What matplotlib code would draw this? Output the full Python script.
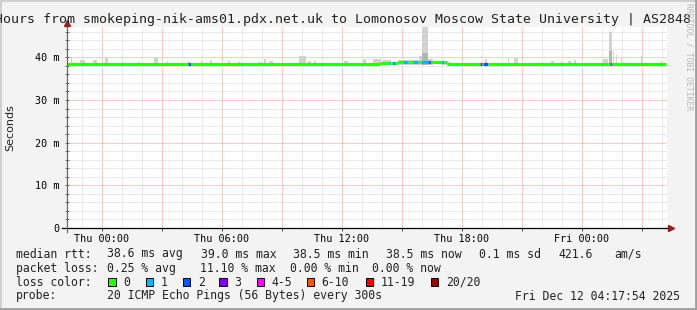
"""SmokePing latency chart, 30 hours, redrawn with matplotlib."""

import matplotlib

matplotlib.use("Agg")
import matplotlib.pyplot as plt
import numpy as np
from matplotlib.lines import Line2D
from matplotlib.patches import Rectangle

W, H = 697, 310
MONO = "DejaVu Sans Mono"

# time axis in hours relative to Thu 00:00
t_start, t_end = -1.725, 28.275
data_end = 28.20

xtick_pos = [0, 6, 12, 18, 24]
xtick_labels = ["Thu 00:00", "Thu 06:00", "Thu 12:00", "Thu 18:00", "Fri 00:00"]
ytick_pos = [0, 10, 20, 30, 40]
ytick_labels = ["0", "10 m", "20 m", "30 m", "40 m"]
y_max = 47.1

# median rtt (ms): baseline plus the stretches where it rose
median_base = 38.5
med_start = [13.9, 14.8, 15.4, 15.9, 16.4]
med_end = [14.8, 15.4, 15.9, 16.4, 17.25]
med_val = [38.6, 38.9, 39.0, 38.9, 38.85]

# lost pings (out of 20) per stretch
loss_start = [4.30, 14.35, 14.55, 15.05, 15.55, 15.95, 16.30, 16.95, 18.90, 19.05, 25.40]
loss_end = [4.45, 14.45, 14.65, 15.30, 15.80, 16.30, 16.45, 17.10, 19.00, 19.30, 25.50]
loss_count = [2, 1, 2, 1, 1, 1, 2, 1, 3, 2, 2]

# smoke: spread of the 20 pings above the median
smoke_bottom = 38.3
smoke_start = [-1.55, -1.10, -0.45, 0.15, 1.00, 1.80, 2.60, 3.25, 4.25, 4.95, 5.40, 6.30,
               6.80, 7.80, 8.10, 8.35, 9.85, 10.30, 10.60, 11.10, 12.10, 13.05, 13.55, 14.05,
               14.80, 15.85, 16.00, 16.30, 16.95, 18.60, 19.15, 20.30, 20.60, 21.80, 22.45,
               22.95, 23.30, 23.60, 25.05, 25.35, 25.55, 25.70, 25.95, 26.30, 26.95, 27.95]
smoke_end = [-1.50, -0.85, -0.25, 0.30, 1.10, 1.90, 2.80, 3.30, 4.40, 5.05, 5.50, 6.40,
             6.95, 7.95, 8.20, 8.55, 10.20, 10.45, 10.70, 11.15, 12.30, 13.20, 13.95, 14.45,
             15.85, 16.00, 16.30, 16.55, 17.45, 18.65, 19.25, 20.35, 20.80, 21.85, 22.60,
             23.00, 23.45, 23.70, 25.30, 25.50, 25.60, 25.75, 26.00, 26.35, 27.05, 28.00]
smoke_top = [40.1, 39.4, 39.4, 40.0, 38.9, 38.9, 40.0, 39.1, 38.9, 39.1, 39.4, 39.1,
             38.9, 38.9, 39.7, 39.1, 40.3, 39.1, 39.1, 38.9, 39.1, 39.7, 39.5, 39.3,
             39.3, 40.2, 47.1, 39.7, 39.0, 39.2, 39.6, 39.8, 39.8, 39.0, 39.1,
             39.1, 39.1, 39.4, 39.6, 45.9, 41.4, 40.6, 39.8, 39.0, 40.2, 39.2]
# denser core of the two tall spikes
core_start = [16.00, 25.35]
core_end = [16.30, 25.50]
core_top = [41.1, 41.4]

loss_labels = ["0", "1", "2", "3", "4-5", "6-10", "11-19", "20/20"]
loss_colors = ["#26ff00", "#00b8ff", "#0059ff", "#7e00ff", "#ff00ff", "#ff5500", "#ff0000", "#a10000"]
loss_upper = [0, 1, 2, 3, 5, 10, 19, 20]

stats_rtt = ["median rtt:", "38.6 ms avg", "39.0 ms max", "38.5 ms min", "38.5 ms now",
             "0.1 ms sd", "421.6", "am/s"]
stats_loss = ["packet loss:", "0.25 % avg", "11.10 % max", "0.00 % min", "0.00 % now"]
probe_text = "20 ICMP Echo Pings (56 Bytes) every 300s"
stamp_text = "Fri Dec 12 04:17:54 2025"
title = "Hours from smokeping-nik-ams01.pdx.net.uk to Lomonosov Moscow State University | AS2848"


def median_at(t):
    for a, b, v in zip(med_start, med_end, med_val):
        if a <= t < b:
            return v
    return median_base


def loss_color_at(t):
    n = 0
    for a, b, c in zip(loss_start, loss_end, loss_count):
        if a <= t < b:
            n = c
    for up, col in zip(loss_upper, loss_colors):
        if n <= up:
            return col
    return loss_colors[-1]


fig = plt.figure(figsize=(W / 100, H / 100), dpi=100)
fig.patch.set_facecolor("#f3f3f3")

ax = fig.add_axes([67 / W, (H - 228) / H, 600 / W, 201 / H])
ax.set_facecolor("white")
ax.set_xlim(t_start, t_end)
ax.set_ylim(0, y_max)
for s in ax.spines.values():
    s.set_visible(False)

# grid: hourly grey, 3-hourly red; 2 ms grey, 10 ms red
dots = (0, (1, 1))
for h in range(-1, 29):
    major = h % 3 == 0
    ax.axvline(h, color="#f29a9a" if major else "#d4d4d4", lw=0.72, ls=dots, zorder=0.5)
for v in range(2, 47, 2):
    major = v % 10 == 0
    ax.axhline(v, color="#f29a9a" if major else "#d4d4d4", lw=0.72, ls=dots, zorder=0.5)

# smoke
ax.bar(smoke_start, np.array(smoke_top) - smoke_bottom, width=np.array(smoke_end) - np.array(smoke_start),
       bottom=smoke_bottom, align="edge", color="#d2d2d2", linewidth=0, zorder=1)
ax.bar(core_start, np.array(core_top) - smoke_bottom, width=np.array(core_end) - np.array(core_start),
       bottom=smoke_bottom, align="edge", color="#b4b4b4", linewidth=0, zorder=1.1)

# median line coloured by loss
edges = sorted(set([t_start, data_end] + med_start + med_end + loss_start + loss_end))
xs0, xs1, ys, cs = [], [], [], []
for a, b in zip(edges[:-1], edges[1:]):
    m = 0.5 * (a + b)
    xs0.append(a)
    xs1.append(b)
    ys.append(median_at(m))
    cs.append(loss_color_at(m))
ax.hlines(ys, xs0, xs1, colors=cs, linewidth=2.3, zorder=2)

# ticks
ax.set_xticks(xtick_pos, xtick_labels)
ax.set_yticks(ytick_pos, ytick_labels)
ax.set_yticks(np.arange(0, 47, 2), minor=True)
ax.set_xticks(np.arange(0, 29, 3), minor=True)
for lab in ax.get_xticklabels() + ax.get_yticklabels():
    lab.set_fontfamily(MONO)
    lab.set_fontsize(7.3)
ax.tick_params(axis="x", which="both", length=2, width=0.7, color="#444444", pad=2.5)
ax.tick_params(axis="y", which="both", length=3, width=0.7, color="#666666", direction="inout", pad=4)

# axes with arrows
ax.plot([-5 / 600, 1.002], [0, 0], transform=ax.transAxes, color="black", lw=0.9, clip_on=False, zorder=3)
ax.plot([0, 0], [-4 / 201, 1 + 4 / 201], transform=ax.transAxes, color="#666666", lw=0.9, clip_on=False, zorder=3)
ax.plot([1.006], [0], transform=ax.transAxes, marker=">", ms=4.5, color="#9b1c1c", mec="#9b1c1c",
        clip_on=False, zorder=4)
ax.plot([0], [1 + 4 / 201], transform=ax.transAxes, marker="^", ms=4.5, color="#9b1c1c", mec="#9b1c1c",
        clip_on=False, zorder=4)


def px(x, y):
    return x / W, 1 - y / H


# title, unit, watermark
fig.text(*px(691, 19), title, ha="right", va="center", family=MONO, fontsize=9.55, color="#222222")
fig.text(*px(10, 127.5), "Seconds", ha="center", va="center", rotation=90, fontsize=8, color="#222222")
fig.text(*px(689, 3), "RRDTOOL / TOBI OETIKER", ha="center", va="top", rotation=270, family=MONO,
         fontsize=5.8, color="#b8b8b8")

# legend block
leg = dict(va="center", family=MONO, fontsize=8.3, color="#222222")
for txt, x in zip(stats_rtt, [16, 107.3, 200.7, 292.7, 386, 479.3, 558.3, 614]):
    fig.text(*px(x, 254), txt, **leg)
for txt, x in zip(stats_loss, [16, 107.3, 200, 290, 372.3]):
    fig.text(*px(x, 268.5), txt, **leg)
fig.text(*px(16, 282), "loss color:", **leg)
for lab, col, x in zip(loss_labels, loss_colors, [108.3, 145.7, 182.7, 219.3, 256.7, 306.7, 365.7, 430.7]):
    fig.patches.append(Rectangle(px(x, 286), 7.7 / W, 8.5 / H, transform=fig.transFigure,
                                 facecolor=col, edgecolor="black", lw=0.7))
    fig.text(*px(x + 15, 282), lab, **leg)
fig.text(*px(16, 296), "probe:", **leg)
fig.text(*px(107.3, 296), probe_text, **leg)
fig.text(*px(680, 296), stamp_text, ha="right", va="center", family=MONO, fontsize=8.3, color="#222222")

# 3d frame of the canvas
for (x0, y0, x1, y1), col in [((0, 1, W, 1), "#cfcfcf"), ((1, 0, 1, H), "#cfcfcf"),
                               ((0, H - 1.5, W, H - 1.5), "#9e9e9e"), ((W - 1.5, 0, W - 1.5, H), "#9e9e9e")]:
    fig.add_artist(Line2D([x0 / W, x1 / W], [1 - y0 / H, 1 - y1 / H], transform=fig.transFigure,
                          color=col, lw=2.0 if col == "#9e9e9e" else 1.4))

fig.savefig("out.png", dpi=100, facecolor=fig.get_facecolor())
